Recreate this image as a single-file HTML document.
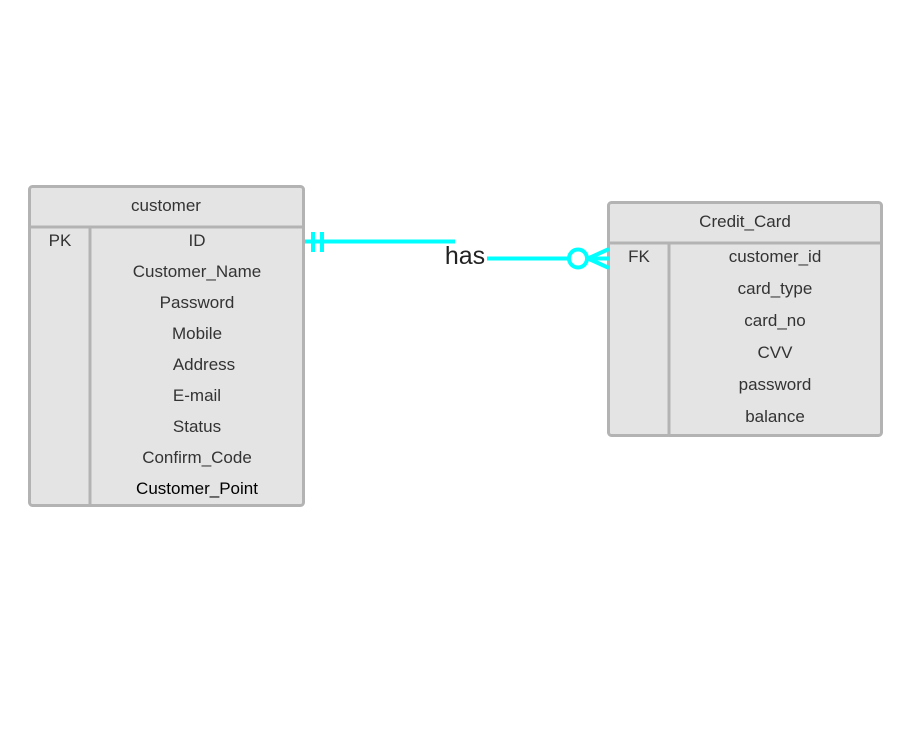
<!DOCTYPE html>
<html><head><meta charset="utf-8"><style>body{margin:0;background:#fff}svg{display:block}text{font-family:"Liberation Sans",sans-serif;font-size:17px;fill:#333;text-anchor:middle}</style></head>
<body>
<svg width="912" height="730" viewBox="0 0 912 730">
<rect x="29.5" y="186.5" width="274" height="319" rx="3" fill="#e4e4e4" stroke="#b3b3b3" stroke-width="3"/>
<line x1="29" y1="227" x2="304" y2="227" stroke="#b3b3b3" stroke-width="3"/>
<line x1="90" y1="227" x2="90" y2="506" stroke="#b3b3b3" stroke-width="3"/>
<text x="166" y="211">customer</text>
<text x="60" y="246">PK</text>
<text x="197" y="246">ID</text>
<text x="197" y="277">Customer_Name</text>
<text x="197" y="308">Password</text>
<text x="197" y="339">Mobile</text>
<text x="204" y="370">Address</text>
<text x="197" y="401">E-mail</text>
<text x="197" y="432">Status</text>
<text x="197" y="463">Confirm_Code</text>
<text x="197" y="494" style="fill:#000">Customer_Point</text>

<rect x="608.5" y="202.5" width="273" height="233" rx="3" fill="#e4e4e4" stroke="#b3b3b3" stroke-width="3"/>
<line x1="608" y1="243" x2="882" y2="243" stroke="#b3b3b3" stroke-width="3"/>
<line x1="669" y1="243" x2="669" y2="436" stroke="#b3b3b3" stroke-width="3"/>
<text x="745" y="227">Credit_Card</text>
<text x="639" y="262">FK</text>
<text x="775" y="262">customer_id</text>
<text x="775" y="294">card_type</text>
<text x="775" y="326">card_no</text>
<text x="775" y="358">CVV</text>
<text x="775" y="390">password</text>
<text x="775" y="422">balance</text>

<g stroke="#00ffff" stroke-width="4" fill="none">
<line x1="305" y1="241.5" x2="455" y2="241.5"/>
<line x1="313" y1="232" x2="313" y2="252"/>
<line x1="322" y1="232" x2="322" y2="252"/>
<line x1="487" y1="258.5" x2="568" y2="258.5"/>
<circle cx="578" cy="258.5" r="9" fill="#fff"/>
<line x1="588" y1="258.5" x2="609" y2="258.5"/>
<line x1="588" y1="258.5" x2="609" y2="249"/>
<line x1="588" y1="258.5" x2="609" y2="268"/>
</g>
<text x="465" y="264" style="font-size:25px;fill:#222">has</text>
</svg>
</body></html>
